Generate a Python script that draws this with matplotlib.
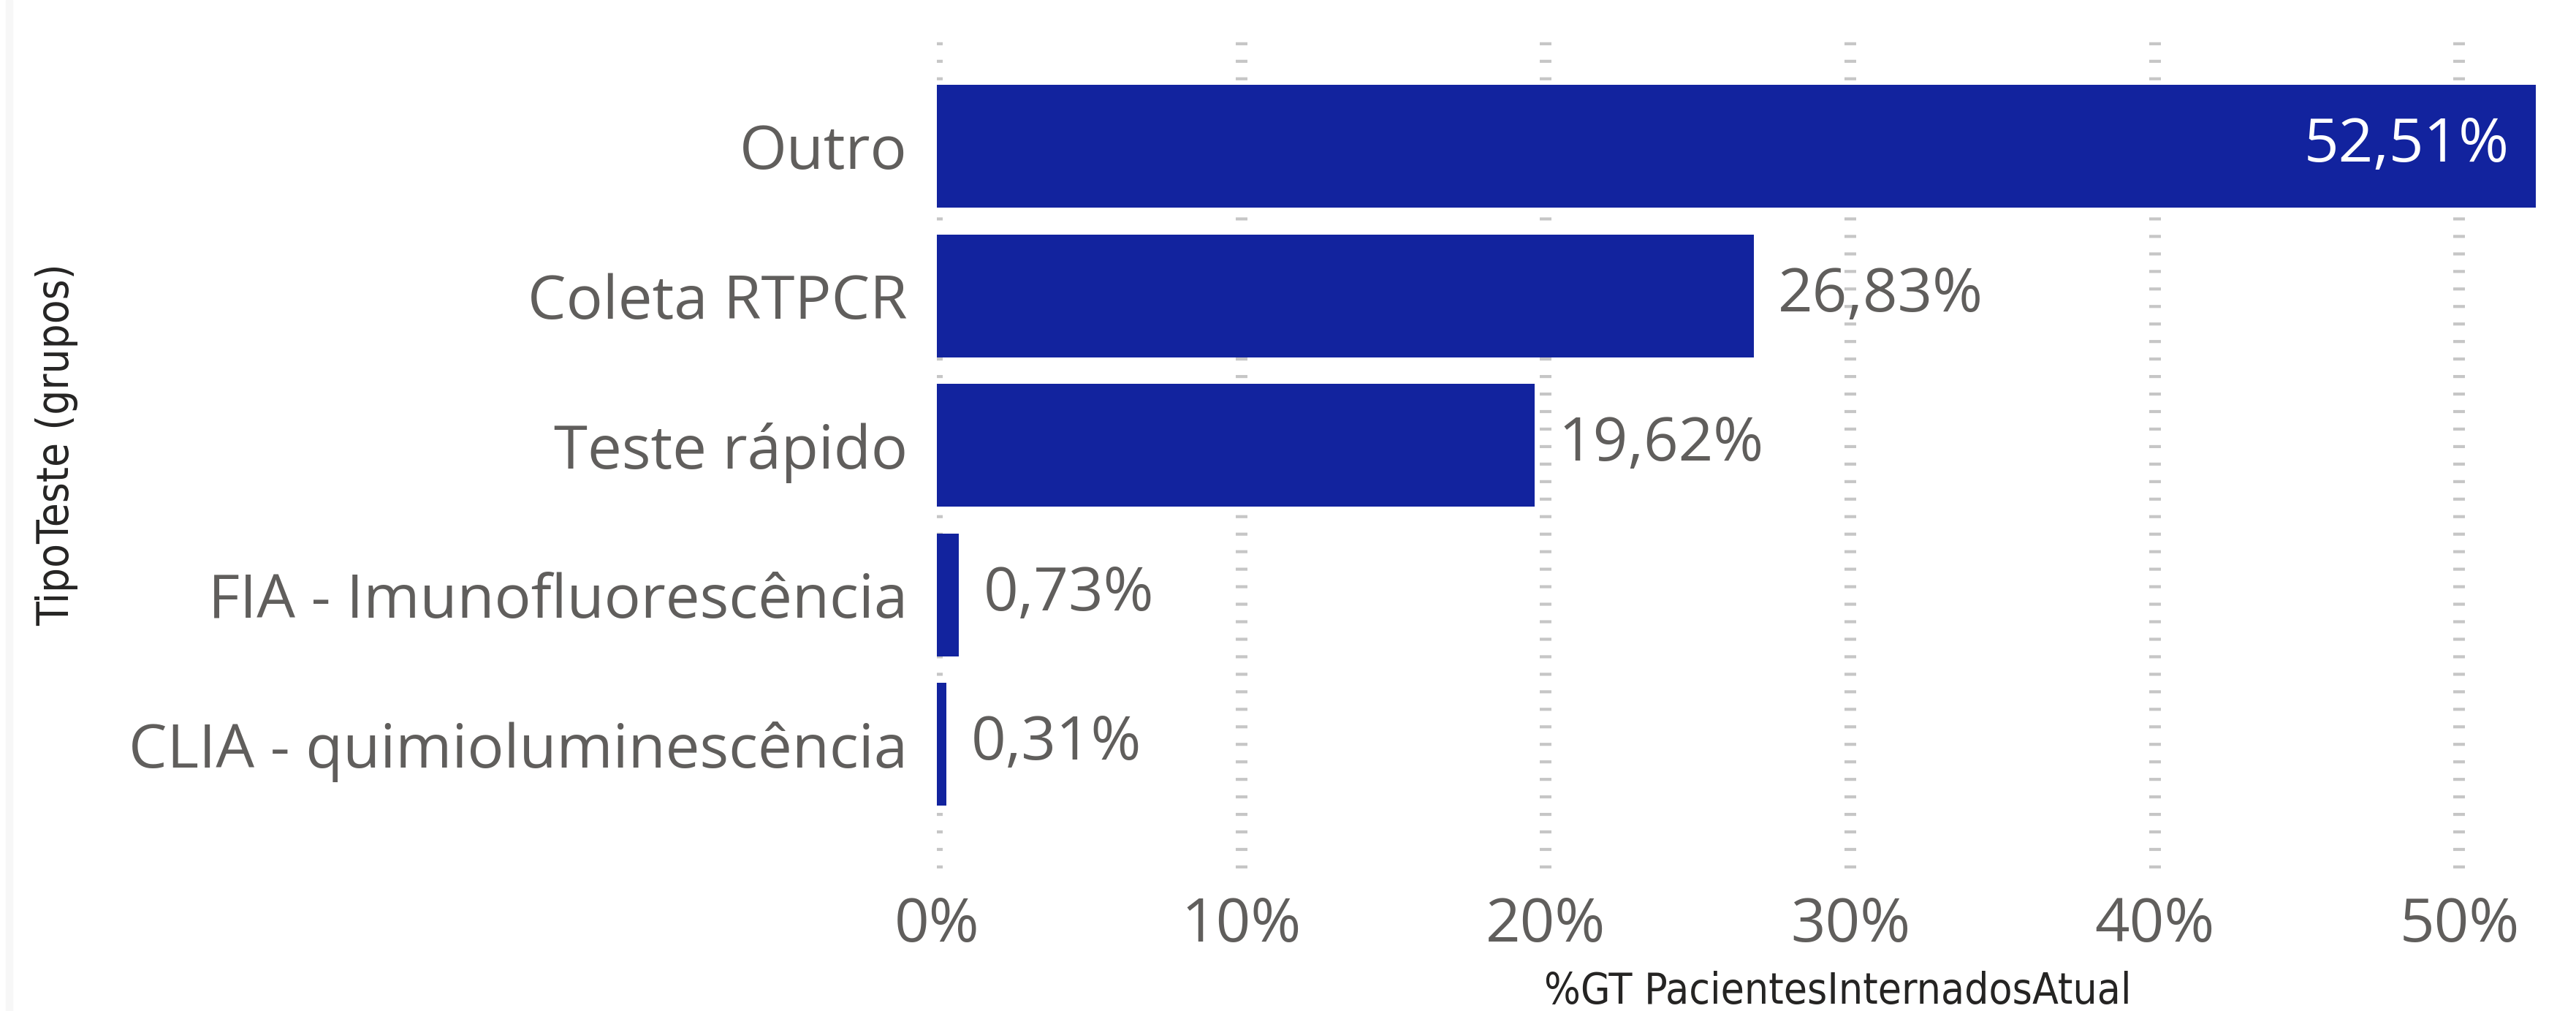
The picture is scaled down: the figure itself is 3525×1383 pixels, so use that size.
import matplotlib.pyplot as plt
from matplotlib.patches import Rectangle

categorias = ['Outro', 'Coleta RTPCR', 'Teste rápido', 'FIA - Imunofluorescência', 'CLIA - quimioluminescência']
valores = [52.51, 26.83, 19.62, 0.73, 0.31]
rotulos = ['52,51%', '26,83%', '19,62%', '0,73%', '0,31%']
xticks = [0, 10, 20, 30, 40, 50]
xtick_labels = ['0%', '10%', '20%', '30%', '40%', '50%']

W, H = 3525, 1383
fig = plt.figure(figsize=(W / 100, H / 100), dpi=100)
fig.patch.set_facecolor('white')

# faint strip on the left edge
fig.patches.append(Rectangle((8 / W, 0), 9 / W, 1, transform=fig.transFigure,
                             color='#F7F7F7', zorder=0))

ax = fig.add_axes([1282 / W, 1 - 1188 / H, (3470 - 1282) / W, (1188 - 57) / H])
ax.set_facecolor('none')

y = list(range(len(categorias)))
ax.barh(y, valores, height=0.82, color='#12239E', zorder=2)

ax.set_xlim(0, 52.51)
ax.set_ylim(4.83, -0.70)

ax.set_xticks(xticks)
ax.set_xticklabels(xtick_labels)
ax.set_yticks(y)
ax.set_yticklabels(categorias)
ax.tick_params(axis='both', length=0, labelsize=60, labelcolor='#605E5C')
ax.tick_params(axis='y', pad=29)
ax.tick_params(axis='x', pad=27)
for lab in ax.get_xticklabels() + ax.get_yticklabels():
    lab.set_family('Open Sans')

for s in ax.spines.values():
    s.set_visible(False)

ax.grid(axis='x', color='#C6C6C6', linewidth=11.5, linestyle=(0, (0.26, 1.24)),
        dash_capstyle='butt')
ax.grid(axis='y', visible=False)
ax.set_axisbelow(True)

# data labels
for i, v in enumerate(valores):
    if v > 45:
        ax.annotate(rotulos[i], (v, i), xytext=(-26, 0), textcoords='offset points',
                    ha='right', va='center', fontsize=60, color='white', family='Open Sans')
    else:
        ax.annotate(rotulos[i], (v, i), xytext=(24, 0), textcoords='offset points',
                    ha='left', va='center', fontsize=60, color='#605E5C', family='Open Sans')

fig.text(2515 / W, 1 - 1356 / H, '%GT PacientesInternadosAtual', ha='center', va='center',
         fontsize=42, color='#252423', family='DejaVu Sans', stretch='condensed')
fig.text(78 / W, 1 - 608 / H, 'TipoTeste (grupos)', ha='center', va='center', rotation=90,
         fontsize=43, color='#252423', family='DejaVu Sans', stretch='condensed')

fig.savefig('out.png', dpi=100)
